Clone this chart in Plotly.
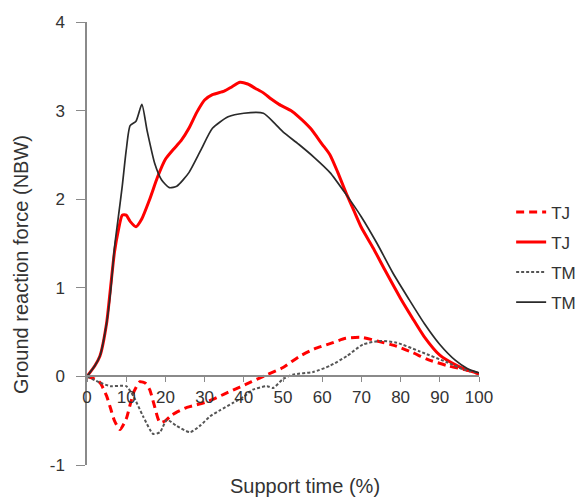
import plotly.graph_objects as go

# Support time (%) and ground reaction force (NBW)
tj_dash_x = [0, 2, 3.3, 5, 6, 7, 8.4, 10, 11, 12, 13.5, 15, 16, 17, 18.6, 20, 21.5, 23, 25.5, 28, 31, 35, 39, 42, 46, 50, 54, 58, 62, 66, 70, 74, 79, 83, 87, 92, 97, 100]
tj_dash_y = [0, -0.03, -0.07, -0.22, -0.36, -0.5, -0.6, -0.48, -0.32, -0.17, -0.06, -0.08, -0.15, -0.3, -0.52, -0.5, -0.44, -0.4, -0.35, -0.32, -0.28, -0.2, -0.12, -0.06, 0.02, 0.1, 0.22, 0.31, 0.37, 0.43, 0.44, 0.4, 0.34, 0.27, 0.19, 0.12, 0.07, 0.03]

tj_solid_x = [0, 2, 3.3, 5, 6, 7, 8, 9, 10, 11, 12.5, 14, 16, 18, 20, 22, 24, 26, 28, 30, 32, 35, 37, 39, 41, 43, 45, 47, 49, 52, 54, 57, 60, 62, 64, 66, 68, 70, 73, 76, 80, 83, 86, 90, 94, 97, 100]
tj_solid_y = [0, 0.12, 0.23, 0.6, 1.0, 1.4, 1.65, 1.82, 1.82, 1.75, 1.69, 1.78, 2.0, 2.25, 2.45, 2.56, 2.66, 2.8, 2.98, 3.12, 3.18, 3.22, 3.27, 3.32, 3.3, 3.25, 3.2, 3.13, 3.07, 3.0, 2.93, 2.8, 2.62, 2.5, 2.3, 2.08, 1.88, 1.68, 1.45, 1.2, 0.88, 0.66, 0.45, 0.24, 0.13, 0.07, 0.03]

tm_dot_x = [0, 3.3, 6, 10, 11.8, 14.3, 16.9, 18.6, 20.4, 22.9, 26.3, 29, 31.4, 34, 37.2, 40, 42.3, 45.9, 47.5, 50, 52.5, 57.7, 62, 66.3, 70.4, 74.7, 79, 85, 91.8, 96, 100]
tm_dot_y = [0, -0.07, -0.11, -0.11, -0.22, -0.45, -0.65, -0.63, -0.49, -0.56, -0.63, -0.55, -0.45, -0.38, -0.3, -0.23, -0.15, -0.11, -0.13, -0.03, 0.02, 0.05, 0.12, 0.23, 0.36, 0.4, 0.38, 0.28, 0.16, 0.08, 0.04]

tm_solid_x = [0, 2, 3.3, 5, 6, 7, 8, 9, 10, 11, 12.5, 14, 15.3, 17.3, 19, 21, 23, 26, 29, 32, 36, 40, 45, 48, 50, 54, 58, 62, 66, 70, 74, 78, 82, 86, 90, 94, 97, 100]
tm_solid_y = [0, 0.12, 0.23, 0.6, 0.95, 1.45, 1.8, 2.15, 2.55, 2.83, 2.88, 3.07, 2.78, 2.4, 2.22, 2.13, 2.15, 2.3, 2.55, 2.8, 2.93, 2.97, 2.97, 2.85, 2.76, 2.62, 2.47, 2.3, 2.06, 1.8, 1.5, 1.17, 0.88, 0.6, 0.36, 0.18, 0.09, 0.04]

x_ticks = [0, 10, 20, 30, 40, 50, 60, 70, 80, 90, 100]
y_ticks = [-1, 0, 1, 2, 3, 4]

FONT = "Liberation Sans, Arial, sans-serif"
TXT = "#333333"

fig = go.Figure()
series = [
    ("TJ", tj_dash_x, tj_dash_y, "#ff0000", 3, "8px,5px", "g1"),
    ("TJ", tj_solid_x, tj_solid_y, "#ff0000", 3, "solid", "g2"),
    ("TM", tm_dot_x, tm_dot_y, "#555555", 2, "3px,2px", "g3"),
    ("TM", tm_solid_x, tm_solid_y, "#2a2a2a", 1.7, "solid", "g4"),
]
for name, xs, ys, col, w, dash, grp in series:
    fig.add_trace(go.Scatter(
        x=xs, y=ys, mode="lines", name=name, legendgroup=grp,
        line=dict(color=col, width=w, dash=dash, shape="spline", smoothing=0.6),
    ))

fig.update_layout(
    width=585, height=500,
    margin=dict(l=87, r=106, t=22, b=35, autoexpand=False),
    paper_bgcolor="white", plot_bgcolor="white",
    font=dict(family=FONT, color=TXT, size=16),
    showlegend=True,
    legend=dict(
        x=1.082, y=0.611, xanchor="left", yanchor="top",
        font=dict(size=17, color=TXT, family=FONT),
        traceorder="grouped", tracegroupgap=5,
        bgcolor="rgba(0,0,0,0)", itemwidth=30,
    ),
    xaxis=dict(
        range=[0, 100], tickvals=x_ticks, ticktext=[str(v) for v in x_ticks],
        anchor="free", position=0.2,
        showline=True, linecolor="#8a8a8a", linewidth=1.5,
        ticks="outside", ticklen=5, tickcolor="#8a8a8a", tickwidth=1,
        showgrid=False, zeroline=False,
        tickfont=dict(size=17, color=TXT),
    ),
    yaxis=dict(
        range=[-1, 4], tickvals=y_ticks, ticktext=[str(v) for v in y_ticks],
        showline=True, linecolor="#8a8a8a", linewidth=1.5,
        ticks="outside", ticklen=9, tickcolor="#8a8a8a", tickwidth=1,
        showgrid=False, zeroline=False, ticklabelstandoff=8,
        tickfont=dict(size=17, color=TXT),
    ),
    annotations=[
        dict(text="Support time (%)", xref="paper", yref="paper",
             x=(305 - 87) / 392, y=-(499 - 465) / 443, xanchor="center", yanchor="bottom",
             showarrow=False, font=dict(size=20, color=TXT)),
        dict(text="Ground reaction force (NBW)", xref="paper", yref="paper",
             x=-(87 - 21) / 392, y=(465 - 265) / 443, xanchor="center", yanchor="middle",
             textangle=-90, showarrow=False, font=dict(size=20, color=TXT)),
    ],
)

fig.write_html("out.html")
